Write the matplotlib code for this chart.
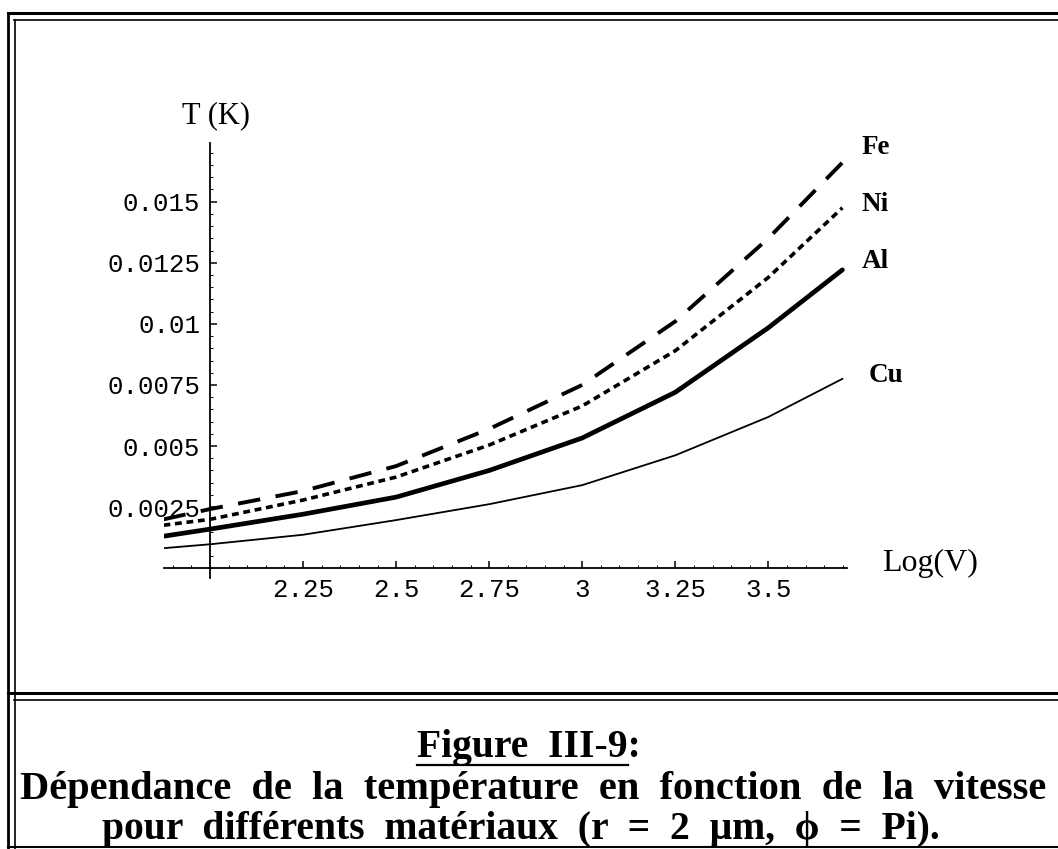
import matplotlib
matplotlib.use("Agg")
import matplotlib.pyplot as plt
from matplotlib.lines import Line2D

# values (Log(V) vs T in K)
log_v = [1.875, 2.0, 2.25, 2.5, 2.75, 3.0, 3.25, 3.5, 3.699]
t_fe = [0.00200, 0.00242, 0.00316, 0.00418, 0.00570, 0.00750, 0.01010, 0.01350, 0.01660]
t_ni = [0.00176, 0.00200, 0.00279, 0.00373, 0.00504, 0.00664, 0.00890, 0.01190, 0.01475]
t_al = [0.00131, 0.00160, 0.00221, 0.00291, 0.00400, 0.00533, 0.00720, 0.00984, 0.01221]
t_cu = [0.00082, 0.00098, 0.00137, 0.00197, 0.00262, 0.00340, 0.00462, 0.00619, 0.00775]

x_ticks = [2.25, 2.5, 2.75, 3.0, 3.25, 3.5]
x_tick_labels = ["2.25", "2.5", "2.75", "3", "3.25", "3.5"]
y_ticks = [0.0025, 0.005, 0.0075, 0.01, 0.0125, 0.015]
y_tick_labels = ["0.0025", "0.005", "0.0075", "0.01", "0.0125", "0.015"]

W, H = 1058, 849
fig = plt.figure(figsize=(W / 100, H / 100), dpi=100)
fig.patch.set_facecolor("white")

# axes placed so that x=1.875..3.71 and y=-0.0004..0.0174 fall where the scan has them
ax = fig.add_axes([163.5 / W, (H - 578) / H, 683 / W, 435 / H])
ax.set_xlim(1.875, 3.71)
ax.set_ylim(-0.0004, 0.0174)
ax.patch.set_alpha(0)

ax.plot(log_v, t_fe, color="black", lw=2.8, dashes=(5.8, 4.0), solid_capstyle="butt")
ax.plot(log_v, t_ni, color="black", lw=2.6, dashes=(1.9, 1.3))
ax.plot(log_v, t_al, color="black", lw=3.4, solid_capstyle="round")
ax.plot(log_v, t_cu, color="black", lw=1.3)

# Mathematica style axes crossing at (2, 0)
for side in ("top", "right"):
    ax.spines[side].set_visible(False)
ax.spines["left"].set_position(("data", 2.0))
ax.spines["bottom"].set_position(("data", 0.0))
ax.spines["left"].set_linewidth(1.3)
ax.spines["bottom"].set_linewidth(1.3)

ax.set_xticks(x_ticks)
ax.set_xticklabels(x_tick_labels)
ax.set_yticks(y_ticks)
ax.set_yticklabels(y_tick_labels)
ax.set_xticks([v / 20 for v in range(38, 75)], minor=True)
ax.set_yticks([v / 2000 for v in range(0, 35)], minor=True)
ax.tick_params(which="major", direction="in", length=5, width=1.1, pad=7,
               labelsize=18.5, labelfontfamily="Liberation Mono")
ax.tick_params(which="minor", direction="in", length=2, width=0.7)

ax.text(2.016, 0.0185, "T (K)", fontsize=22, family="Liberation Serif",
        ha="center", va="center")
ax.text(3.807, 0.0002, "Log(V)", fontsize=23, family="Liberation Serif",
        ha="left", va="center")

lab = dict(fontsize=19.5, family="Liberation Serif", fontweight="bold",
           ha="left", va="center")
ax.text(3.75, 0.0172, "Fe", **lab)
ax.text(3.75, 0.0149, "Ni", **lab)
ax.text(3.75, 0.01255, "Al", **lab)
ax.text(3.77, 0.0079, "Cu", **lab)


def hline(y, x0, x1, lw):
    fig.add_artist(Line2D([x0 / W, x1 / W], [1 - y / H, 1 - y / H], color="black",
                          lw=lw, transform=fig.transFigure))


def vline(x, y0, y1, lw):
    fig.add_artist(Line2D([x / W, x / W], [1 - y0 / H, 1 - y1 / H], color="black",
                          lw=lw, transform=fig.transFigure))


# double frame of the scanned page
hline(13, 8, W, 2.2)
hline(20, 14, W, 1.2)
vline(8, 13, H, 2.0)
vline(15, 20, H, 1.2)
hline(693, 8, W, 2.2)
hline(700, 14, W, 1.2)
hline(847, 8, W, 1.5)

cap = dict(family=["Liberation Serif", "DejaVu Serif"], fontweight="bold",
           fontsize=28.5, va="center")
title = fig.text(0.5, 1 - 748 / H, "Figure  III-9:", ha="center", **cap)
line2 = dict(cap, fontsize=29.2)
fig.text(20 / W, 1 - 789 / H, "Dépendance  de  la  température  en  fonction  de  la  vitesse",
         ha="left", **line2)
fig.text(102 / W, 1 - 829 / H, "pour  différents  matériaux  (r  =  2  μm,  ϕ  =  Pi).",
         ha="left", **cap)

# underline "Figure III-9" (not the colon)
renderer = fig.canvas.get_renderer()
box = title.get_window_extent(renderer)
probe = fig.text(0, 0, "Figure  III-9", **cap)
under_w = probe.get_window_extent(renderer).width
probe.remove()
hline(765, box.x0, box.x0 + under_w, 1.6)

fig.savefig("out.png", dpi=100)
